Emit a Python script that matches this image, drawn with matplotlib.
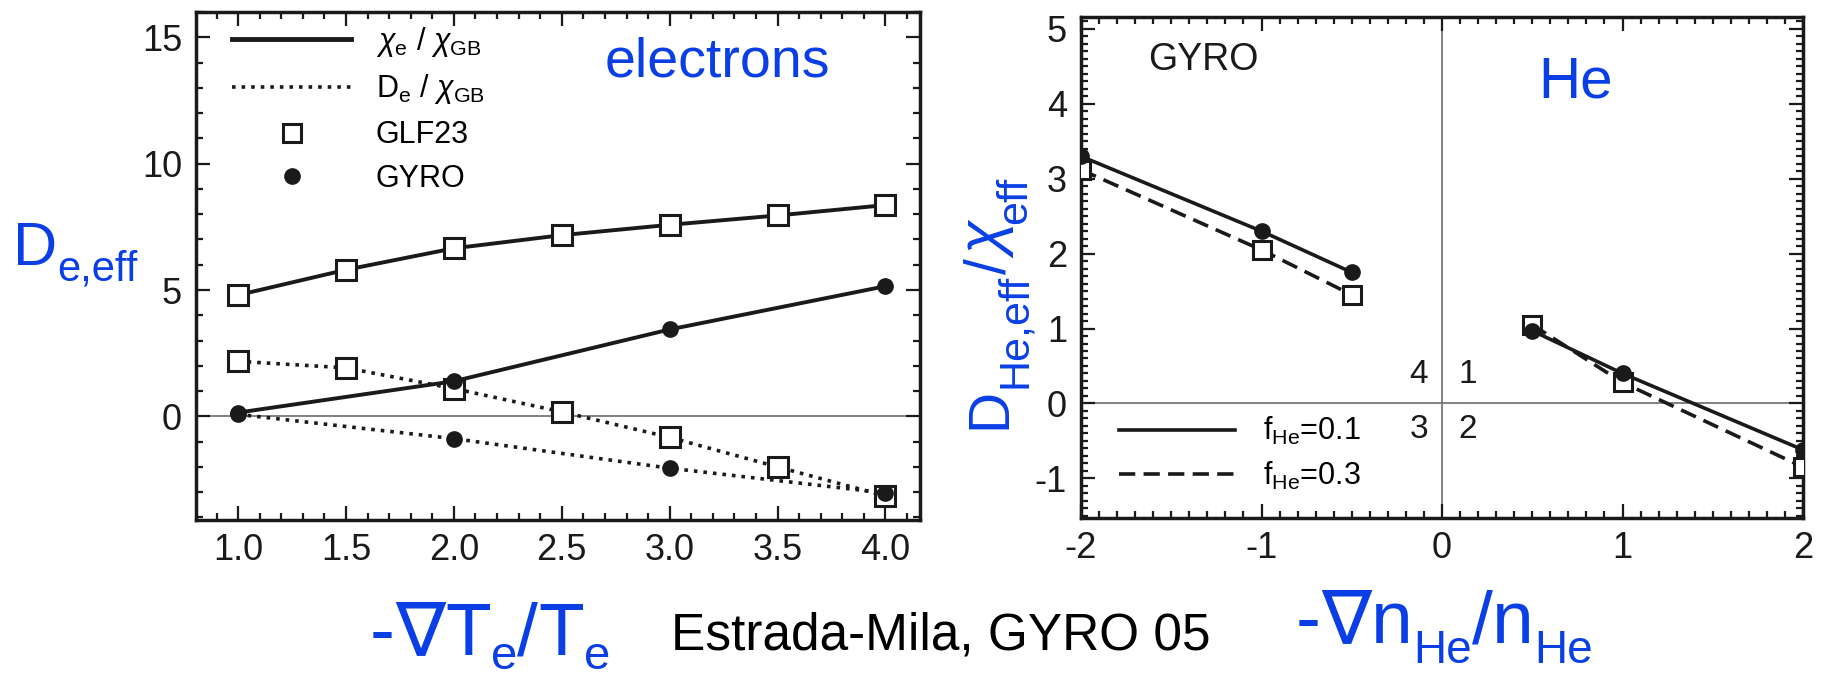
import matplotlib
matplotlib.use("Agg")
import numpy as np
import matplotlib.pyplot as plt
from matplotlib.lines import Line2D
from matplotlib.ticker import MultipleLocator
from matplotlib.transforms import IdentityTransform

plt.rcParams['font.family'] = ['Liberation Sans', 'DejaVu Sans']
plt.rcParams['mathtext.fontset'] = 'custom'
plt.rcParams['mathtext.rm'] = 'Liberation Sans'
plt.rcParams['mathtext.it'] = 'Liberation Sans:italic'
plt.rcParams['mathtext.bf'] = 'Liberation Sans:bold'
plt.rcParams['mathtext.fallback'] = 'stixsans'
plt.rcParams['axes.unicode_minus'] = False

# ---------------- data: left panel (electrons) ----------------
x_glf = [1.0, 1.5, 2.0, 2.5, 3.0, 3.5, 4.0]
glf_chi = [4.8, 5.8, 6.65, 7.17, 7.58, 7.95, 8.36]
glf_D = [2.18, 1.92, 1.1, 0.18, -0.83, -2.0, -3.15]
x_gyro = [1.0, 2.0, 3.0, 4.0]
gyro_chi = [0.15, 1.39, 3.44, 5.15]
gyro_D = [0.08, -0.88, -2.05, -3.03]
left_xticks = [1.0, 1.5, 2.0, 2.5, 3.0, 3.5, 4.0]
left_xticklabels = ['1.0', '1.5', '2.0', '2.5', '3.0', '3.5', '4.0']
left_yticks = [0, 5, 10, 15]

# ---------------- data: right panel (He) ----------------
xneg = [-2.0, -1.0, -0.5]
f01_neg = [3.3, 2.3, 1.75]
f03_neg = [3.12, 2.05, 1.45]
xpos = [0.5, 1.0, 2.0]
f01_pos = [0.97, 0.4, -0.62]
f03_pos = [1.05, 0.28, -0.85]
right_xticks = [-2, -1, 0, 1, 2]
right_yticks = [-1, 0, 1, 2, 3, 4, 5]

BLUE = '#0a3fe6'
INK = '#1a1a1a'
W, H = 1821, 679

fig = plt.figure(figsize=(W / 100, H / 100), dpi=100)
renderer = fig.canvas.get_renderer()

def axes_px(l, t, r, b):
    return fig.add_axes([l / W, 1 - b / H, (r - l) / W, (b - t) / H])

def style(ax):
    for s in ax.spines.values():
        s.set_linewidth(2.5)
        s.set_color(INK)
    ax.tick_params(which='both', direction='in', top=True, right=True,
                   colors=INK, labelsize=26, width=1.6)
    ax.tick_params(which='major', length=10)
    ax.tick_params(axis='x', which='major', pad=9)
    ax.tick_params(axis='y', which='major', pad=10)
    ax.tick_params(which='minor', length=5)

def compose(x_full, y_full, pieces, rotation=0, color=BLUE):
    """Place text pieces (text, size, drop_px, style) one after another.
    x_full, y_full: start point of baseline in image pixels (y from top)."""
    th = np.deg2rad(rotation)
    d = np.array([np.cos(th), np.sin(th)])
    down = np.array([np.sin(th), -np.cos(th)])
    p0 = np.array([x_full, H - y_full], dtype=float)
    adv = 0.0
    for s, size, drop, st in pieces:
        t = fig.text(0, 0, s, fontsize=size, color=color, style=st,
                     ha='left', va='baseline', transform=IdentityTransform())
        w = t.get_window_extent(renderer).width
        pos = p0 + d * adv + down * drop
        t.set_position((pos[0], pos[1]))
        t.set_rotation(rotation)
        t.set_rotation_mode('anchor')
        adv += w

# ================= left panel =================
ax1 = axes_px(196, 12, 920, 520)
style(ax1)
ax1.set_xlim(0.805, 4.16)
ax1.set_ylim(-4.1, 16.0)
ax1.axhline(0, color='#777777', lw=1.3, zorder=1)
ax1.plot(x_glf, glf_chi, '-', color=INK, lw=2.8, marker='s', ms=14,
         mfc='white', mec=INK, mew=2.2, zorder=3)
ax1.plot(x_glf, glf_D, ':', color=INK, lw=2.6, marker='s', ms=14,
         mfc='white', mec=INK, mew=2.2, zorder=3)
ax1.plot(x_gyro, gyro_chi, '-', color=INK, lw=2.8, marker='o', ms=11,
         mfc=INK, mec=INK, zorder=4)
ax1.plot(x_gyro, gyro_D, ':', color=INK, lw=2.6, marker='o', ms=11,
         mfc=INK, mec=INK, zorder=4)
ax1.set_xticks(left_xticks)
ax1.set_xticklabels(left_xticklabels)
ax1.set_yticks(left_yticks)
ax1.xaxis.set_minor_locator(MultipleLocator(0.1))
ax1.yaxis.set_minor_locator(MultipleLocator(1))

handles1 = [
    Line2D([], [], color=INK, lw=3.5, ls='-'),
    Line2D([], [], color=INK, lw=2.6, ls=':'),
    Line2D([], [], color=INK, ls='none', marker='s', ms=13, mfc='white', mew=2.2),
    Line2D([], [], color=INK, ls='none', marker='o', ms=11, mfc=INK),
]
labels1 = [r'$\chi_{\mathrm{e}}$ / $\chi_{\mathrm{GB}}$',
           r'D$_{\mathrm{e}}$ / $\chi_{\mathrm{GB}}$', 'GLF23', 'GYRO']
ax1.legend(handles1, labels1, loc='upper left', bbox_to_anchor=(0.05, 0.975),
           frameon=False, fontsize=22, handlelength=3.9, handletextpad=0.8,
           labelspacing=0.45, borderpad=0, borderaxespad=0)

ax1.text(0.72, 0.9, 'electrons', transform=ax1.transAxes, color=BLUE,
         fontsize=40, ha='center', va='center')

# ================= right panel =================
ax2 = axes_px(1081, 17, 1803, 518)
style(ax2)
ax2.set_xlim(-2, 2)
ax2.set_ylim(-1.53, 5.16)
ax2.axhline(0, color='#777777', lw=1.3, zorder=1)
ax2.axvline(0, color='#777777', lw=1.3, zorder=1)
ax2.plot(xneg, f01_neg, '-', color=INK, lw=2.6, marker='o', ms=11,
         mfc=INK, mec=INK, zorder=4)
ax2.plot(xneg, f03_neg, '--', color=INK, lw=2.6, marker='s', ms=13,
         mfc='white', mec=INK, mew=2.2, zorder=3, dashes=(4.5, 2.3))
ax2.plot(xpos, f01_pos, '-', color=INK, lw=2.6, marker='o', ms=11,
         mfc=INK, mec=INK, zorder=4)
ax2.plot(xpos, f03_pos, '--', color=INK, lw=2.6, marker='s', ms=13,
         mfc='white', mec=INK, mew=2.2, zorder=3, dashes=(4.5, 2.3))
ax2.set_xticks(right_xticks)
ax2.set_yticks(right_yticks)
ax2.xaxis.set_minor_locator(MultipleLocator(0.1))
ax2.yaxis.set_minor_locator(MultipleLocator(0.1))

handles2 = [Line2D([], [], color=INK, lw=2.6, ls='-'),
            Line2D([], [], color=INK, lw=2.6, ls='--', dashes=(4.5, 2.3))]
labels2 = [r'f$_{\mathrm{He}}$=0.1', r'f$_{\mathrm{He}}$=0.3']
ax2.legend(handles2, labels2, loc='upper left', bbox_to_anchor=(0.053, 0.205),
           frameon=False, fontsize=22, handlelength=3.8, handletextpad=0.9,
           labelspacing=0.4, borderpad=0, borderaxespad=0)

ax2.text(-1.32, 4.59, 'GYRO', color=INK, fontsize=27, ha='center', va='center')
ax2.text(0.74, 4.28, 'He', color=BLUE, fontsize=42, ha='center', va='center')
for qx, qy, q in [(-0.13, 0.38, '4'), (0.14, 0.38, '1'),
                  (-0.13, -0.35, '3'), (0.14, -0.35, '2')]:
    ax2.text(qx, qy, q, color=INK, fontsize=24, ha='center', va='center')

# ================= axis labels (composed) =================
compose(13, 265, [('D', 44, 0, 'normal'), ('e,eff', 30, 15, 'normal')])
compose(1005, 429, [('D', 41, 0, 'normal'), ('He,eff', 31, 21, 'normal'),
                    ('/', 41, 0, 'normal'), ('χ', 44, 0, 'italic'),
                    ('eff', 31, 21, 'normal')], rotation=90)
compose(370, 655, [('-', 54, 0, 'normal'), ('∇', 54, 0, 'normal'),
                   ('T', 54, 0, 'normal'), ('e', 34, 14, 'normal'),
                   ('/', 54, 0, 'normal'), ('T', 54, 0, 'normal'),
                   ('e', 34, 14, 'normal')])
fig.text(671 / W, 1 - 650 / H, 'Estrada-Mila, GYRO 05', color='black',
         fontsize=37, ha='left', va='baseline')
compose(1296, 643, [('-', 54, 0, 'normal'), ('∇', 54, 0, 'normal'),
                    ('n', 54, 0, 'normal'), ('He', 33, 20, 'normal'),
                    ('/', 54, 0, 'normal'), ('n', 54, 0, 'normal'),
                    ('He', 33, 20, 'normal')])

fig.savefig('out.png', dpi=100)
